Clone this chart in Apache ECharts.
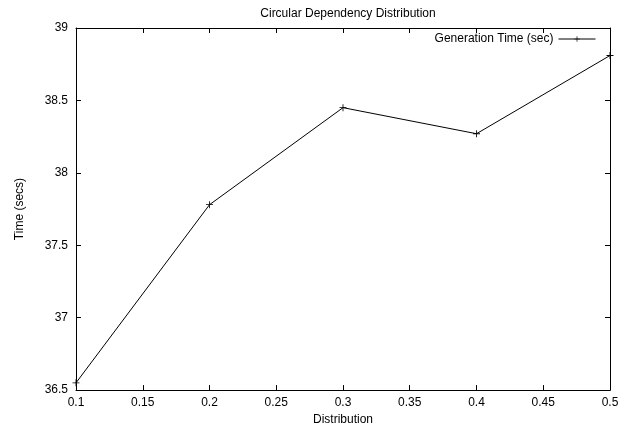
<!DOCTYPE html>
<html>
<head>
<meta charset="utf-8">
<script src="https://cdn.jsdelivr.net/npm/echarts@6/dist/echarts.min.js"></script>
<style>
  html, body { margin: 0; padding: 0; background: #fff; }
  #main { width: 629px; height: 431px; }
</style>
</head>
<body>
<div id="main"></div>
<script>
// data
const distribution = [0.1, 0.2, 0.3, 0.4, 0.5];
const genTime = [36.55, 37.78, 38.45, 38.27, 38.81];
const seriesName = "Generation Time (sec)";

const font = "Liberation Sans, Arial, sans-serif";
// gnuplot style "+" point
const plus = "path://M4.4,0H5.6V10H4.4Z M0,4.4H10V5.6H0Z";

const chart = echarts.init(document.getElementById("main"));

// shared axis look: black frame, ticks pointing inside
const frame = { show: true, lineStyle: { color: "#000", width: 1 } };
const ticks = { show: true, inside: true, length: 5, lineStyle: { color: "#000" } };
const txt = { fontFamily: font, fontSize: 12, color: "#000" };

chart.setOption({
  animation: false,
  backgroundColor: "#fff",
  title: {
    text: "Circular Dependency Distribution",
    left: 343,
    top: 3,
    textAlign: "center",
    textStyle: Object.assign({ fontWeight: "normal" }, txt),
  },
  legend: {
    right: 33,
    top: 33,
    padding: 0,
    align: "right",
    itemWidth: 37,
    itemHeight: 7,
    lineStyle: { width: 1 },
    textStyle: txt,
    data: [seriesName],
  },
  grid: { left: 76, right: 19, top: 28, bottom: 39, containLabel: false },
  xAxis: [
    {
      type: "value",
      min: 0.1,
      max: 0.5,
      interval: 0.05,
      name: "Distribution",
      nameLocation: "middle",
      nameGap: 22,
      nameTextStyle: txt,
      axisLine: frame,
      axisTick: ticks,
      splitLine: { show: false },
      axisLabel: Object.assign({ margin: 7 }, txt),
    },
    {
      type: "value",
      position: "top",
      min: 0.1,
      max: 0.5,
      interval: 0.05,
      axisLine: frame,
      axisTick: ticks,
      splitLine: { show: false },
      axisLabel: { show: false },
    },
  ],
  yAxis: [
    {
      type: "value",
      min: 36.5,
      max: 39,
      interval: 0.5,
      name: "Time (secs)",
      nameLocation: "middle",
      nameGap: 50,
      nameTextStyle: txt,
      axisLine: frame,
      axisTick: ticks,
      splitLine: { show: false },
      axisLabel: Object.assign({ margin: 8 }, txt),
    },
    {
      type: "value",
      position: "right",
      min: 36.5,
      max: 39,
      interval: 0.5,
      axisLine: frame,
      axisTick: ticks,
      splitLine: { show: false },
      axisLabel: { show: false },
    },
  ],
  series: [
    {
      name: seriesName,
      type: "line",
      data: distribution.map((d, i) => [d, genTime[i]]),
      symbol: plus,
      symbolSize: 7,
      color: "#000",
      lineStyle: { color: "#000", width: 1 },
      itemStyle: { color: "#000" },
    },
  ],
});
</script>
</body>
</html>
